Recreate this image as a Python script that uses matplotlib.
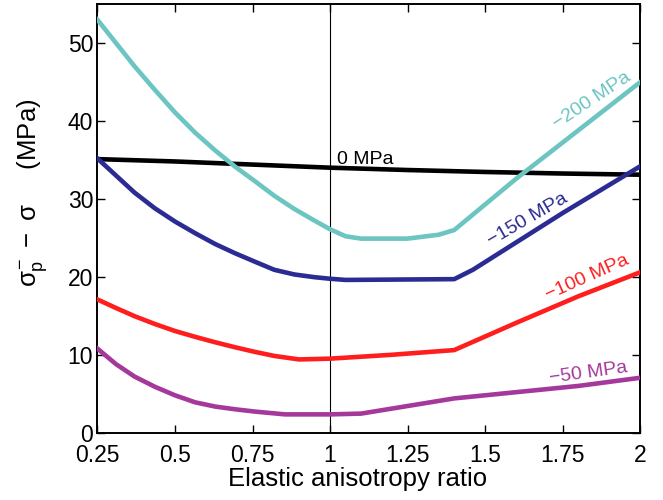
import numpy as np
import matplotlib
matplotlib.use("Agg")
import matplotlib.pyplot as plt

plt.rcParams['font.family'] = ['Liberation Sans', 'DejaVu Sans']
plt.rcParams['mathtext.fontset'] = 'custom'
plt.rcParams['mathtext.rm'] = 'Liberation Sans'
plt.rcParams['mathtext.it'] = 'Liberation Sans'
plt.rcParams['mathtext.sf'] = 'Liberation Sans'

# ---- data ----
x_0 = [0.25, 0.5, 0.75, 1.0, 1.25, 1.5, 1.75, 2.0]
y_0 = [35.1, 34.8, 34.4, 34.0, 33.7, 33.45, 33.25, 33.1]

x_200 = [0.25, 0.31, 0.37, 0.435, 0.5, 0.565, 0.63, 0.695, 0.76, 0.82, 0.885, 0.95, 1.0,
         1.05, 1.1, 1.25, 1.35, 1.4, 1.6, 2.0]
y_200 = [53.0, 50.0, 47.0, 44.0, 41.1, 38.5, 36.2, 34.1, 32.2, 30.4, 28.7, 27.2, 26.1,
         25.2, 24.9, 24.9, 25.4, 26.0, 32.6, 45.0]

x_150 = [0.25, 0.31, 0.37, 0.435, 0.5, 0.565, 0.63, 0.695, 0.76, 0.82, 0.885, 0.95, 1.0,
         1.05, 1.4, 1.46, 1.75, 2.0]
y_150 = [35.2, 33.0, 30.8, 28.8, 27.1, 25.6, 24.2, 23.0, 21.9, 20.9, 20.3, 19.95, 19.75,
         19.6, 19.7, 20.9, 28.2, 34.2]

x_100 = [0.25, 0.31, 0.37, 0.435, 0.5, 0.565, 0.63, 0.695, 0.76, 0.82, 0.9, 1.0,
         1.2, 1.4, 1.6, 1.8, 2.0]
y_100 = [17.1, 16.0, 14.95, 13.95, 13.05, 12.3, 11.6, 10.95, 10.35, 9.85, 9.4, 9.5,
         10.0, 10.6, 14.1, 17.5, 20.6]

x_50 = [0.25, 0.31, 0.37, 0.435, 0.5, 0.565, 0.63, 0.695, 0.76, 0.855, 1.0,
        1.1, 1.4, 1.8, 2.0]
y_50 = [10.8, 8.8, 7.2, 5.9, 4.8, 3.9, 3.35, 3.0, 2.7, 2.35, 2.35,
        2.45, 4.4, 6.0, 7.05]

xticks = [0.25, 0.5, 0.75, 1, 1.25, 1.5, 1.75, 2]
xticklabels = ['0.25', '0.5', '0.75', '1', '1.25', '1.5', '1.75', '2']
yticks = [0, 10, 20, 30, 40, 50]

c_200 = '#6CC5C1'
c_150 = '#2B2B94'
c_100 = '#FF1E1E'
c_50 = '#A5389B'

fig = plt.figure(figsize=(6.63, 5.0), dpi=100)
ax = fig.add_axes([0.1468, 0.1346, 0.966 - 0.1468, 0.992 - 0.1346])

ax.axvline(1.0, color='black', lw=0.8, zorder=1)
lw = 3.3
for xs, ys, c in [(x_0, y_0, 'black'), (x_200, y_200, c_200), (x_150, y_150, c_150),
                  (x_100, y_100, c_100), (x_50, y_50, c_50)]:
    ax.plot(xs, ys, color=c, lw=lw, zorder=3, solid_joinstyle='round')

fs_lab = 14
ax.text(1.021, 34.5, '0 MPa', color='black', fontsize=fs_lab, ha='left', va='baseline')
ax.text(1.845, 42.6, '\u2212200 MPa', color=c_200, fontsize=fs_lab, rotation=33.5,
        ha='center', va='center', rotation_mode='anchor')
ax.text(1.635, 27.3, '\u2212150 MPa', color=c_150, fontsize=fs_lab, rotation=30,
        ha='center', va='center', rotation_mode='anchor')
ax.text(1.829, 19.9, '\u2212100 MPa', color=c_100, fontsize=fs_lab, rotation=24,
        ha='center', va='center', rotation_mode='anchor')
ax.text(1.833, 7.6, '\u221250 MPa', color=c_50, fontsize=fs_lab, rotation=8,
        ha='center', va='center', rotation_mode='anchor')

ax.set_xlim(0.25, 2.0)
ax.set_ylim(0, 55)
ax.set_xticks(xticks)
ax.set_xticklabels(xticklabels)
ax.set_yticks(yticks)
ax.tick_params(direction='in', length=5.5, width=1, top=True, right=True,
               labelsize=16.5)
ax.tick_params(axis='x', pad=8)
ax.tick_params(axis='y', pad=3)
for s in ax.spines.values():
    s.set_linewidth(1.4)

ax.set_xlabel('Elastic anisotropy ratio', fontsize=18.5)
ax.xaxis.set_label_coords(0.48, -0.107)
ax.xaxis.label.set_va('center')
ax.set_ylabel(r'$\sigma_p^{-}\ -\ \sigma$     (MPa)', fontsize=18.5)
ax.yaxis.set_label_coords(-0.087, 0.56)

fig.savefig('out.png', dpi=100)
